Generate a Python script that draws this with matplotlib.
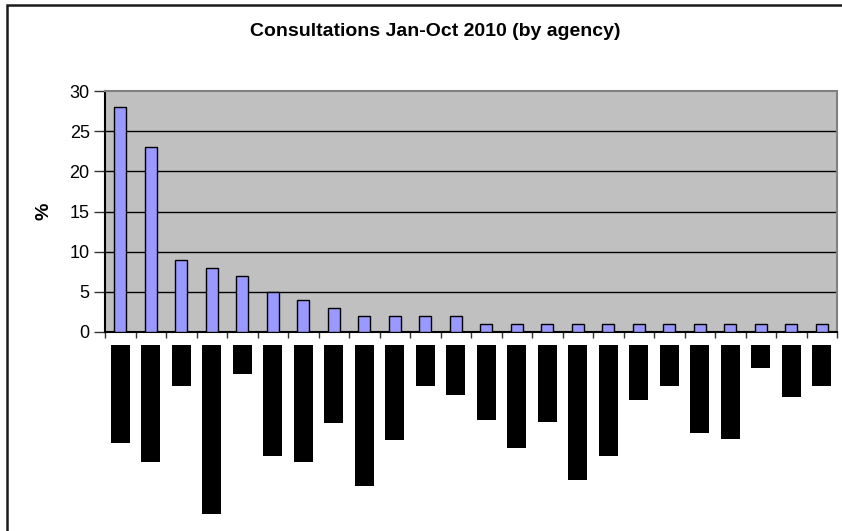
import matplotlib
matplotlib.use("Agg")
import matplotlib.pyplot as plt
import matplotlib.transforms as mtransforms
from matplotlib.patches import Rectangle

plt.rcParams['font.family'] = ['Liberation Sans', 'DejaVu Sans']

# share of consultations per agency (%), agencies sorted by share
shares = [28, 23, 9, 8, 7, 5, 4, 3, 2, 2, 2, 2,
          1, 1, 1, 1, 1, 1, 1, 1, 1, 1, 1, 1]
# agency names are blacked out; only the length of each label box is kept (px)
label_box_len = [98, 117, 41, 169, 29, 111, 117, 78, 141, 95, 41, 50,
                 75, 103, 77, 135, 111, 55, 41, 88, 94, 23, 52, 41]
yticks = [0, 5, 10, 15, 20, 25, 30]

W, H = 842, 531
fig = plt.figure(figsize=(W / 100, H / 100), dpi=100)

# outer frame of the chart object
fig.patches.append(Rectangle((7 / W, -0.1), 1.1, 1 - 5 / H + 0.1, transform=fig.transFigure,
                             fill=False, edgecolor='#1a1a1a', linewidth=1.8))

ax = fig.add_axes([105 / W, 1 - 332 / H, (837 - 105) / W, (332 - 91) / H])
ax.set_facecolor('#c0c0c0')

x = list(range(len(shares)))
ax.bar(x, shares, width=0.4, color='#9999ff', edgecolor='black', linewidth=1.0, zorder=3)

ax.set_xlim(-0.5, len(shares) - 0.5)
ax.set_ylim(0, 30)
ax.set_yticks(yticks)
ax.set_yticklabels([str(v) for v in yticks], fontsize=13)
ax.set_xticks([i - 0.5 for i in range(len(shares) + 1)])
ax.set_xticklabels([])
ax.tick_params(axis='x', direction='out', length=4, width=1, color='#333333')
ax.tick_params(axis='y', direction='out', length=8, width=1, color='#333333', pad=3)

for v in yticks[1:-1]:
    ax.axhline(v, color='black', linewidth=1.0, zorder=1)

ax.spines['left'].set_color('black')
ax.spines['bottom'].set_color('black')
ax.spines['top'].set_color('#808080')
ax.spines['right'].set_color('#808080')
for s in ax.spines.values():
    s.set_linewidth(1.5)

# redacted category labels hanging below the axis
trans = mtransforms.blended_transform_factory(ax.transData, fig.transFigure)
w = 19 / 30.5
for i, L in enumerate(label_box_len):
    ax.add_patch(Rectangle((i - w / 2, 1 - 345 / H), w, -L / H, transform=trans,
                           facecolor='black', edgecolor='none', clip_on=False))

ax.set_ylabel('%', fontsize=14, fontweight='bold', labelpad=12)
fig.text(435 / W, 1 - 32 / H, 'Consultations Jan-Oct 2010 (by agency)',
         ha='center', va='center', fontsize=14, fontweight='bold')

fig.savefig('out.png', dpi=100)
